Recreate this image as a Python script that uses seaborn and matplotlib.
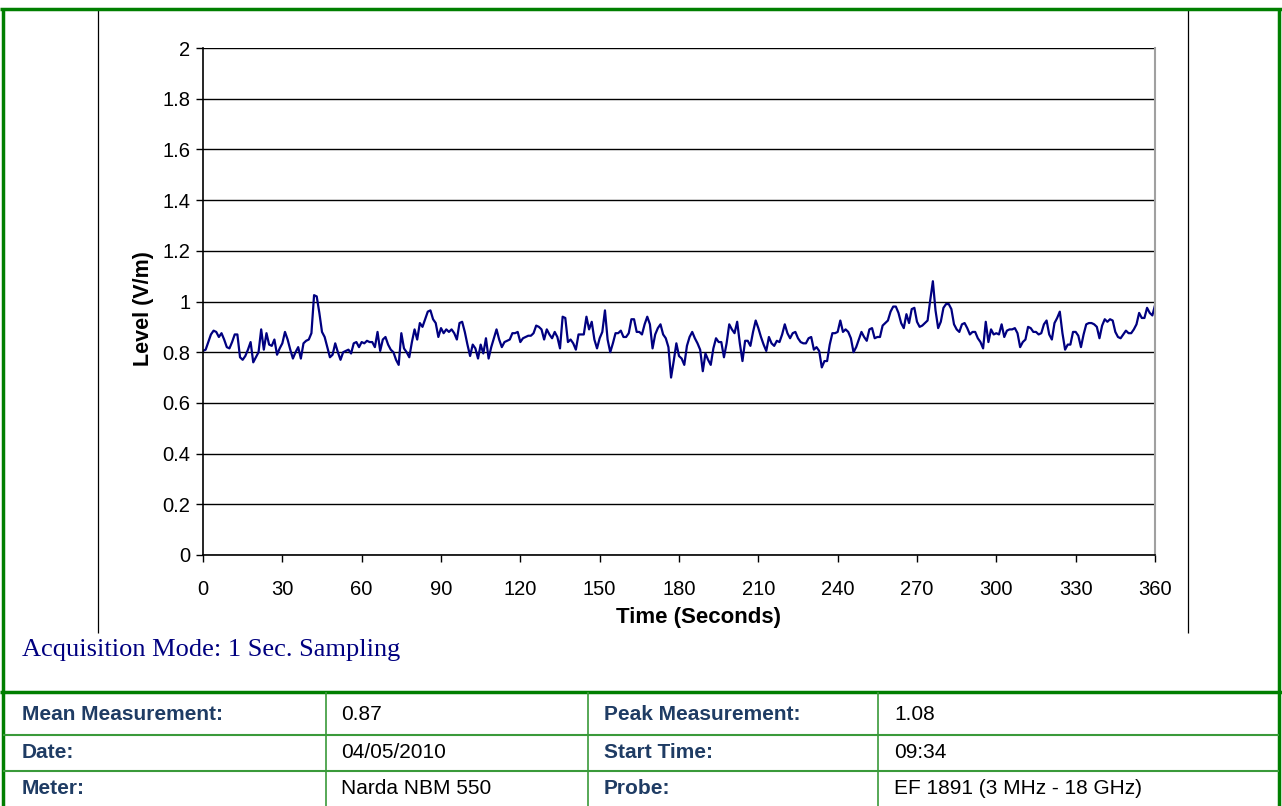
import numpy as np
import matplotlib
matplotlib.use('Agg')
import matplotlib.pyplot as plt
from matplotlib.lines import Line2D
import seaborn as sns

# Field level readings, 1 second sampling
level_0_71 = [0.805, 0.81, 0.84, 0.87, 0.885, 0.88, 0.86, 0.875, 0.85, 0.82,
              0.815, 0.84, 0.87, 0.87, 0.78, 0.77, 0.785, 0.81, 0.84, 0.76,
              0.78, 0.80, 0.89, 0.81, 0.875, 0.83, 0.825, 0.85, 0.79, 0.815,
              0.835, 0.88, 0.85, 0.81, 0.775, 0.80, 0.82, 0.775, 0.835, 0.845,
              0.85, 0.875, 1.025, 1.02, 0.955, 0.88, 0.86, 0.82, 0.78, 0.79,
              0.835, 0.80, 0.77, 0.80, 0.805, 0.81, 0.795, 0.835, 0.84, 0.82,
              0.84, 0.835, 0.845, 0.84, 0.84, 0.82, 0.88, 0.805, 0.85, 0.86,
              0.83, 0.81]
level_72_143 = [0.80, 0.77, 0.75, 0.875, 0.815, 0.80, 0.78, 0.84, 0.89, 0.85,
                0.915, 0.90, 0.93, 0.96, 0.965, 0.93, 0.915, 0.86, 0.895, 0.875,
                0.89, 0.88, 0.89, 0.875, 0.85, 0.915, 0.92, 0.88, 0.83, 0.785,
                0.83, 0.815, 0.775, 0.83, 0.795, 0.855, 0.775, 0.82, 0.855, 0.89,
                0.85, 0.82, 0.84, 0.845, 0.85, 0.875, 0.875, 0.88, 0.84, 0.855,
                0.86, 0.865, 0.865, 0.875, 0.905, 0.90, 0.89, 0.85, 0.89, 0.87,
                0.855, 0.88, 0.86, 0.815, 0.94, 0.935, 0.84, 0.85, 0.835, 0.81,
                0.87, 0.87]
level_144_214 = [0.87, 0.94, 0.89, 0.92, 0.85, 0.815, 0.855, 0.88, 0.965, 0.85,
                 0.80, 0.835, 0.875, 0.875, 0.885, 0.86, 0.86, 0.875, 0.93, 0.93,
                 0.88, 0.88, 0.87, 0.91, 0.94, 0.91, 0.815, 0.87, 0.895, 0.91,
                 0.87, 0.855, 0.82, 0.70, 0.765, 0.835, 0.785, 0.775, 0.75, 0.825,
                 0.86, 0.88, 0.855, 0.835, 0.81, 0.725, 0.795, 0.77, 0.75, 0.815,
                 0.855, 0.84, 0.84, 0.78, 0.835, 0.91, 0.89, 0.875, 0.92, 0.835,
                 0.765, 0.845, 0.845, 0.825, 0.88, 0.925, 0.895, 0.86, 0.83, 0.805,
                 0.86]
level_215_286 = [0.835, 0.825, 0.845, 0.84, 0.87, 0.91, 0.875, 0.855, 0.875, 0.88,
                 0.855, 0.84, 0.835, 0.835, 0.855, 0.86, 0.81, 0.82, 0.805, 0.74,
                 0.765, 0.765, 0.83, 0.875, 0.875, 0.88, 0.925, 0.88, 0.89, 0.88,
                 0.855, 0.80, 0.82, 0.85, 0.88, 0.86, 0.845, 0.89, 0.895, 0.855,
                 0.86, 0.86, 0.905, 0.915, 0.925, 0.96, 0.98, 0.98, 0.955, 0.915,
                 0.895, 0.95, 0.915, 0.97, 0.975, 0.92, 0.90, 0.905, 0.915, 0.925,
                 1.005, 1.08, 0.965, 0.895, 0.92, 0.975, 0.99, 0.99, 0.97, 0.91,
                 0.89, 0.88]
level_287_360 = [0.91, 0.915, 0.895, 0.87, 0.88, 0.88, 0.855, 0.84, 0.815, 0.92,
                 0.84, 0.89, 0.87, 0.875, 0.87, 0.91, 0.86, 0.885, 0.89, 0.89,
                 0.895, 0.875, 0.82, 0.84, 0.85, 0.90, 0.895, 0.88, 0.88, 0.87,
                 0.875, 0.91, 0.925, 0.87, 0.85, 0.915, 0.935, 0.96, 0.875, 0.81,
                 0.83, 0.83, 0.88, 0.88, 0.865, 0.82, 0.87, 0.91, 0.915, 0.915,
                 0.91, 0.90, 0.855, 0.905, 0.93, 0.92, 0.93, 0.925, 0.88, 0.86,
                 0.855, 0.87, 0.885, 0.875, 0.875, 0.89, 0.91, 0.955, 0.935, 0.935,
                 0.975, 0.955, 0.945, 0.985]

level = level_0_71 + level_72_143 + level_144_214 + level_215_286 + level_287_360
seconds = list(range(len(level)))

x_ticks = [0, 30, 60, 90, 120, 150, 180, 210, 240, 270, 300, 330, 360]
y_ticks = [0, 0.2, 0.4, 0.6, 0.8, 1, 1.2, 1.4, 1.6, 1.8, 2]
y_tick_labels = ['0', '0.2', '0.4', '0.6', '0.8', '1', '1.2', '1.4', '1.6', '1.8', '2']

table_rows = [
    ['Mean Measurement:', '0.87', 'Peak Measurement:', '1.08'],
    ['Date:', '04/05/2010', 'Start Time:', '09:34'],
    ['Meter:', 'Narda NBM 550', 'Probe:', 'EF 1891 (3 MHz - 18 GHz)'],
]

sns.set_style('white')
plt.rcParams['font.family'] = ['Liberation Sans', 'DejaVu Sans']
plt.rcParams['text.color'] = 'black'
plt.rcParams['xtick.color'] = 'black'
plt.rcParams['ytick.color'] = 'black'

W, H = 1282, 806
fig = plt.figure(figsize=(W / 100, H / 100), dpi=100)
fig.patch.set_facecolor('white')


def fx(px):
    return px / W


def fy(py):
    return 1 - py / H


def hline(y, x0, x1, color, lw):
    fig.add_artist(Line2D([fx(x0), fx(x1)], [fy(y), fy(y)], color=color, lw=lw,
                          transform=fig.transFigure, solid_capstyle='butt'))


def vline(x, y0, y1, color, lw):
    fig.add_artist(Line2D([fx(x), fx(x)], [fy(y0), fy(y1)], color=color, lw=lw,
                          transform=fig.transFigure, solid_capstyle='butt'))


# plot area
ax = fig.add_axes([fx(203), fy(555), fx(1155) - fx(203), fy(48) - fy(555)])
sns.lineplot(x=seconds, y=level, color='#000080', linewidth=1.6, ax=ax)
ax.set_xlim(0, 360)
ax.set_ylim(0, 2)
ax.set_xticks(x_ticks)
ax.set_yticks(y_ticks)
ax.set_yticklabels(y_tick_labels)
ax.yaxis.grid(True, color='black', linewidth=1)
ax.xaxis.grid(False)
ax.set_axisbelow(True)
ax.spines['top'].set_visible(False)
ax.spines['right'].set_color('#a0a0a0')
ax.spines['right'].set_linewidth(1.5)
for s in ['left', 'bottom']:
    ax.spines[s].set_color('black')
    ax.spines[s].set_linewidth(1.2)
ax.tick_params(axis='y', direction='out', length=5, width=1, pad=4, labelsize=14.5,
               left=True, labelcolor='black')
ax.tick_params(axis='x', direction='out', length=5, width=1, pad=13, labelsize=14.5,
               bottom=True, labelcolor='black')
ax.set_xlabel('')
ax.set_ylabel('')

fig.text(fx(698), fy(618), 'Time (Seconds)', ha='center', va='center',
         fontsize=16, fontweight='bold', color='black')
fig.text(fx(143), fy(309), 'Level (V/m)', ha='center', va='center',
         rotation=90, fontsize=15.5, fontweight='bold', color='black')

# chart area borders
vline(98, 9, 633, 'black', 0.9)
vline(1188, 9, 633, 'black', 0.9)

fig.text(fx(22), fy(650), 'Acquisition Mode: 1 Sec. Sampling', ha='left', va='center',
         fontsize=19, color='#000080', family=['Liberation Serif', 'DejaVu Serif'])

# outer frame
green = '#007f00'
hline(9, 0, W, green, 2.5)
vline(3, 9, H, green, 2.5)
vline(1279, 9, H, green, 2.5)
hline(692, 0, W, green, 2.5)

# table
light_green = '#3a9a3a'
hline(735, 3, 1279, light_green, 1.5)
hline(771, 3, 1279, light_green, 1.5)
for xc in [326, 588, 878]:
    vline(xc, 692, H, light_green, 1.2)

col_x = [22, 341, 604, 894]
row_y = [715, 753, 789]
for r, row in enumerate(table_rows):
    for c, txt in enumerate(row):
        is_label = c in (0, 2)
        fig.text(fx(col_x[c]), fy(row_y[r]), txt, ha='left', va='center', fontsize=15,
                 fontweight='bold' if is_label else 'normal',
                 color='#1f3c64' if is_label else 'black')

plt.savefig('out.png', dpi=100, facecolor='white')
